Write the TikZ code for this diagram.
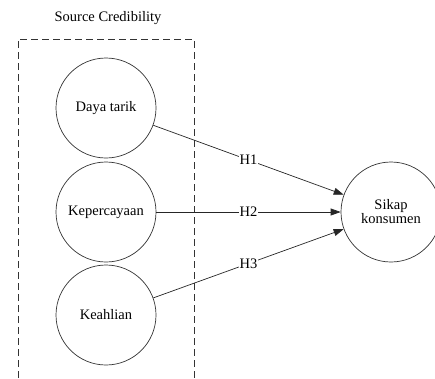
\documentclass[tikz,border=0pt]{standalone}
\usepackage{fontspec}
\setmainfont{Liberation Serif}
\usepackage{tikz}
\usetikzlibrary{positioning,arrows.meta}

\tikzset{
  konstruk/.style={draw=black!80, circle, minimum size=100pt, inner sep=0pt, align=center, line width=0.7pt},
  hlabel/.style={fill=white, inner sep=1pt, midway},
  panah/.style={line width=0.7pt, draw=black!85, -{Triangle[length=10pt, width=7pt]}}
}

\begin{document}
\begin{tikzpicture}[x=1pt, y=-1pt, font=\fontsize{14.5}{16}\selectfont]
  \useasboundingbox (0, 0) rectangle (435, 378);

  % Source Credibility (dashed group)
  \node (judul) at (108, 18) {Source Credibility};
  \draw[black!80, line width=0.7pt, dash pattern=on 7pt off 4pt] (18, 378) -- (18, 39) -- (194, 39) -- (194, 378);

  % Variabel
  \node[konstruk] (daya) at (106, 108) {Daya tarik};
  \node[konstruk] (percaya) at (106, 212) {Kepercayaan};
  \node[konstruk] (ahli) at (106, 315) {Keahlian};
  \node[konstruk] (sikap) at (391, 212) {Sikap\\[-2pt]konsumen};

  % Hipotesis
  \draw[panah] (daya) -- (sikap) node[hlabel] {H1};
  \draw[panah] (percaya) -- (sikap) node[hlabel] {H2};
  \draw[panah] (ahli) -- (sikap) node[hlabel] {H3};
\end{tikzpicture}
\end{document}
